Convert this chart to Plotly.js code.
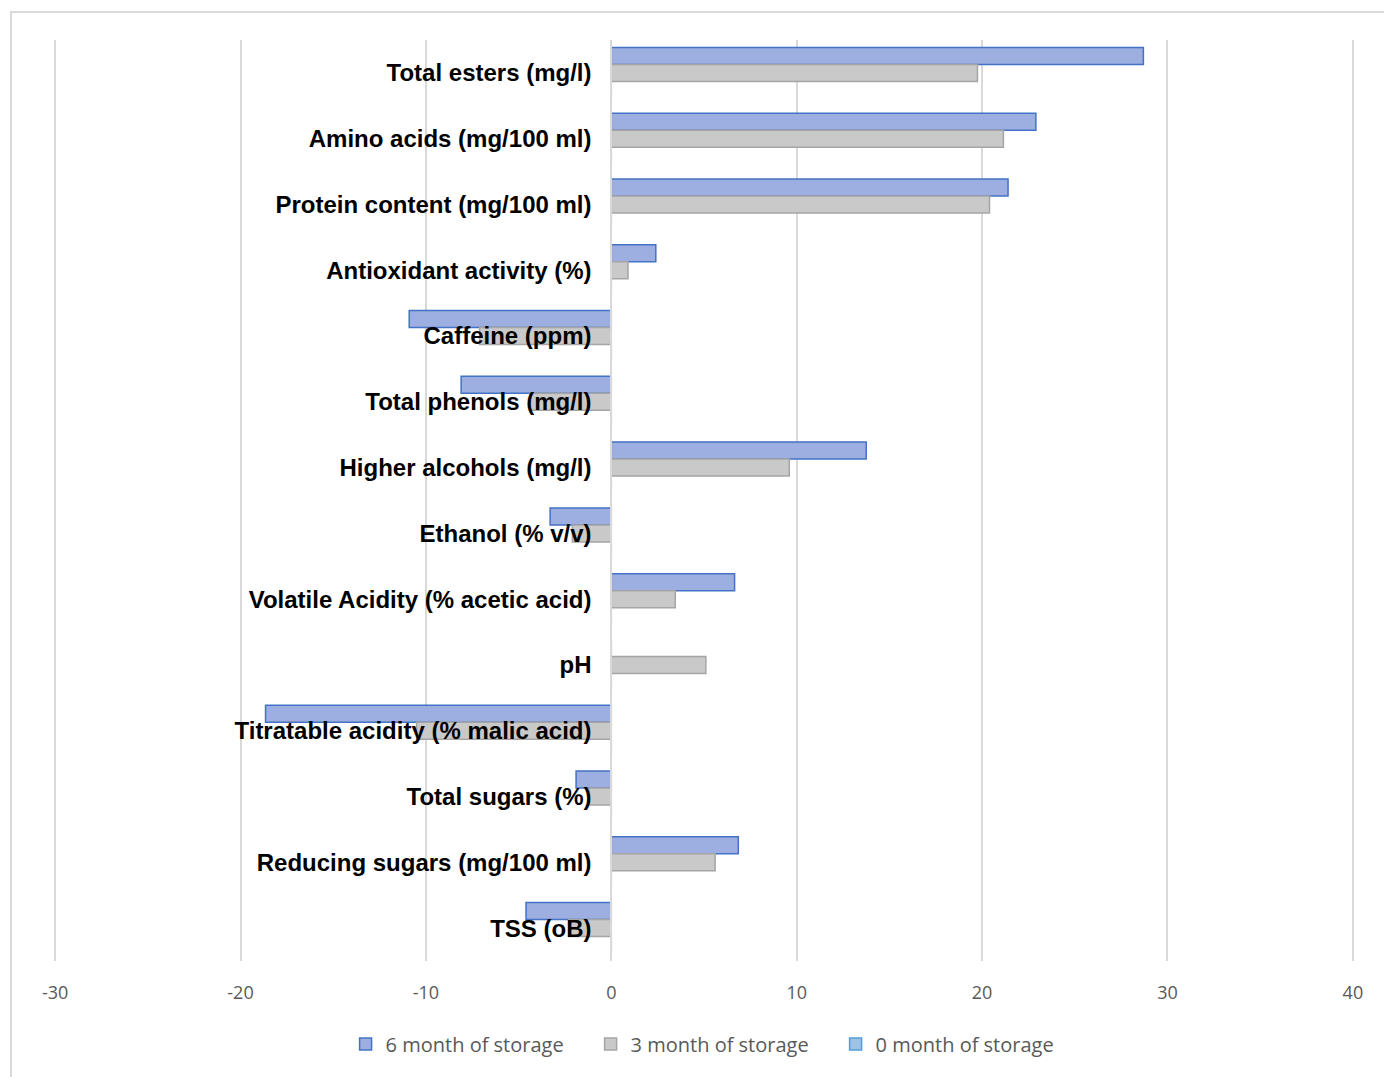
<!DOCTYPE html>
<html>
<head>
<meta charset="utf-8">
<script src="https://cdn.plot.ly/plotly-3.0.1.min.js"></script>
<style>
  html, body { margin: 0; padding: 0; background: #fff; }
  #chart { width: 1384px; height: 1077px; }
  #frame { position: absolute; left: 10px; top: 11px; width: 1500px; height: 1200px;
           border-left: 2px solid #d9d9d9; border-top: 2px solid #d9d9d9; pointer-events: none; }
</style>
</head>
<body>
<div id="chart"></div>
<div id="frame"></div>
<script>
const categories = [
  "Total esters (mg/l)",
  "Amino acids (mg/100 ml)",
  "Protein content (mg/100 ml)",
  "Antioxidant activity (%)",
  "Caffeine (ppm)",
  "Total phenols (mg/l)",
  "Higher alcohols (mg/l)",
  "Ethanol (% v/v)",
  "Volatile Acidity (% acetic acid)",
  "pH",
  "Titratable acidity (% malic acid)",
  "Total sugars (%)",
  "Reducing sugars (mg/100 ml)",
  "TSS (oB)"
];
const month6 = [28.7, 22.9, 21.4, 2.4, -10.9, -8.1, 13.75, -3.3, 6.65, 0, -18.65, -1.9, 6.85, -4.6];
const month3 = [19.75, 21.15, 20.4, 0.9, -7.1, -4.4, 9.6, -2.1, 3.45, 5.1, -10.5, -1.2, 5.6, -2.3];
const month0 = [0, 0, 0, 0, 0, 0, 0, 0, 0, 0, 0, 0, 0, 0];
const seriesNames = ["6 month of storage", "3 month of storage", "0 month of storage"];
const xTicks = [-30, -20, -10, 0, 10, 20, 30, 40];

const xMin = -30.06, xMax = 40.06;

const traces = [
  { name: seriesNames[0], x: month6, fill: "#9cafe0", line: "#4472c4" },
  { name: seriesNames[1], x: month3, fill: "#c9c9c9", line: "#a5a5a5" },
  { name: seriesNames[2], x: month0, fill: "#9dc3e6", line: "#5b9bd5" }
].map(s => ({
  type: "bar",
  orientation: "h",
  name: s.name,
  x: s.x,
  y: categories,
  marker: { color: s.fill, line: { color: s.line, width: 1.5 } },
  hoverinfo: "x+y+name"
}));

const layout = {
  width: 1384,
  height: 1077,
  paper_bgcolor: "#ffffff",
  plot_bgcolor: "#ffffff",
  margin: { l: 54, r: 30, t: 40, b: 116 },
  barmode: "group",
  bargap: 0.225,
  bargroupgap: 0,
  showlegend: true,
  legend: {
    orientation: "h",
    x: 0.507, xanchor: "center",
    y: -0.069, yanchor: "top",
    font: { family: "Open Sans, sans-serif", size: 20, color: "#595959" },
    entrywidth: 200, entrywidthmode: "pixels",
    itemwidth: 30,
    traceorder: "normal"
  },
  xaxis: {
    range: [xMin, xMax],
    tickvals: xTicks,
    ticktext: xTicks.map(String),
    showgrid: true,
    gridcolor: "#d9d9d9",
    gridwidth: 2,
    zeroline: false,
    showline: false,
    ticks: "",
    ticklabelstandoff: 19,
    tickfont: { family: "Open Sans, sans-serif", size: 18, color: "#595959" },
    fixedrange: true
  },
  yaxis: {
    type: "category",
    categoryorder: "array",
    categoryarray: categories,
    autorange: "reversed",
    anchor: "free",
    position: (0 - xMin) / (xMax - xMin),
    showgrid: false,
    zeroline: false,
    showline: true,
    linecolor: "#d9d9d9",
    linewidth: 2,
    ticks: "",
    ticklabelstandoff: 14,
    tickfont: { family: "Liberation Sans, Arial, sans-serif", size: 24, color: "#000000", weight: "bold" },
    layer: "above traces",
    fixedrange: true
  }
};

Plotly.newPlot("chart", traces, layout, { displayModeBar: false, staticPlot: true });
</script>
</body>
</html>
